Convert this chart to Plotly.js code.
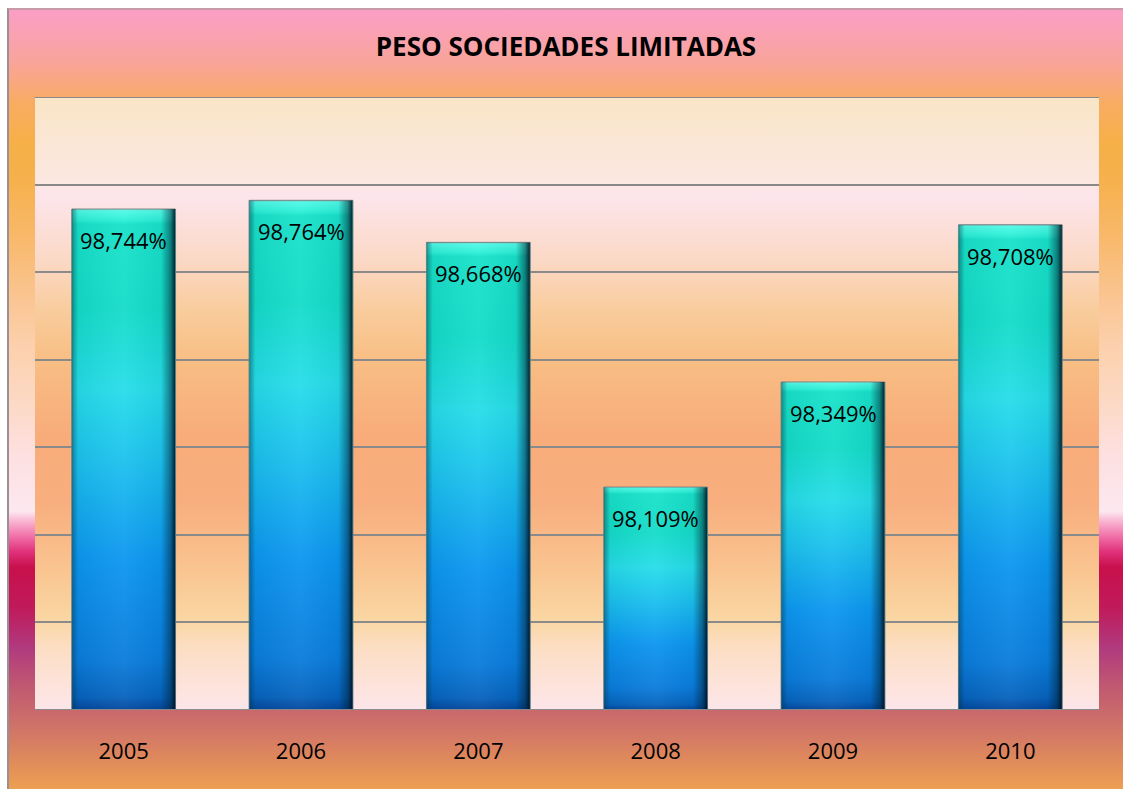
<!DOCTYPE html>
<html>
<head>
<meta charset="utf-8">
<script src="https://cdn.plot.ly/plotly-3.0.1.min.js"></script>
<style>
  html, body { margin:0; padding:0; width:1123px; height:789px; overflow:hidden; background:#ffffff; }
  #bg {
    position:absolute; left:7px; top:8px; width:1130px; height:790px;
    box-sizing:border-box;
    border-left:2px solid #9a8f94; border-top:2px solid #c89aa8;
    background: linear-gradient(to bottom,
      #FA9EC6 0%, #F9A49A 6.7%, #F8AC62 11.8%, #F6B048 16.9%, #F6B04C 21.4%,
      #F8B868 28.4%, #FAC490 36.1%, #FCD0AC 42.5%, #FCD8C2 48.9%, #FDE0E0 56.6%,
      #FCE8F0 63.6%, #F9B4D2 64.9%, #F070A8 66.8%, #E0307A 68.8%, #C8104C 70.7%,
      #C01A5A 75.8%, #B03A7E 80.9%, #C05A70 86%, #D07468 91.2%, #E49058 96.3%, #F0A850 100%);
  }
  #chart { position:absolute; left:0; top:0; width:1123px; height:789px; }
</style>
</head>
<body>
<div id="bg"></div>
<div id="chart"></div>
<script>
// ---- data ----
const years = [2005, 2006, 2007, 2008, 2009, 2010];
const values = [98.744, 98.764, 98.668, 98.109, 98.349, 98.708];
const valueLabels = ["98,744%", "98,764%", "98,668%", "98,109%", "98,349%", "98,708%"];
const tickLabels = ["2005", "2006", "2007", "2008", "2009", "2010"];
const chartTitle = "PESO SOCIEDADES LIMITADAS";

// ---- axis settings ----
const yMin = 97.6, yMax = 99.0, yStep = 0.2;
const barWidth = 0.585;

function svgUri(s) { return 'data:image/svg+xml;charset=utf-8,' + encodeURIComponent(s); }

const plotBgSvg = `<svg xmlns='http://www.w3.org/2000/svg' viewBox='0 0 100 100' preserveAspectRatio='none' width='100' height='100'>
<defs><linearGradient id='g' x1='0' y1='0' x2='0' y2='1'>
<stop offset='0' stop-color='#F9E6C6'/>
<stop offset='0.14' stop-color='#FCE7E2'/>
<stop offset='0.16' stop-color='#FDE5EC'/>
<stop offset='0.27' stop-color='#FBD8C4'/>
<stop offset='0.35' stop-color='#F9CC9C'/>
<stop offset='0.43' stop-color='#F8BE84'/>
<stop offset='0.55' stop-color='#F8AC7A'/>
<stop offset='0.66' stop-color='#F8AE7E'/>
<stop offset='0.76' stop-color='#F9C28E'/>
<stop offset='0.85' stop-color='#FAD6A2'/>
<stop offset='0.90' stop-color='#FCDEC4'/>
<stop offset='1' stop-color='#FDE6EA'/>
</linearGradient></defs>
<rect width='100' height='100' fill='url(#g)'/></svg>`;

const barSvg = `<svg xmlns='http://www.w3.org/2000/svg' viewBox='0 0 100 100' preserveAspectRatio='none' width='100' height='100'>
<defs>
<linearGradient id='v' x1='0' y1='0' x2='0' y2='1'>
<stop offset='0' stop-color='#8a9a98'/>
<stop offset='0.003' stop-color='#50FAE6'/>
<stop offset='0.022' stop-color='#2CF0D8'/>
<stop offset='0.03' stop-color='#18E2CA'/>
<stop offset='0.2' stop-color='#14DCC8'/>
<stop offset='0.36' stop-color='#26DDE9'/>
<stop offset='0.5' stop-color='#1CC2EE'/>
<stop offset='0.7' stop-color='#0C96F0'/>
<stop offset='0.9' stop-color='#0A7CDC'/>
<stop offset='0.975' stop-color='#0662BC'/>
<stop offset='1' stop-color='#04449A'/>
</linearGradient>
<linearGradient id='h' x1='0' y1='0' x2='1' y2='0'>
<stop offset='0' stop-color='#506868' stop-opacity='0.9'/>
<stop offset='0.012' stop-color='#003040' stop-opacity='0.4'/>
<stop offset='0.06' stop-color='#003040' stop-opacity='0.06'/>
<stop offset='0.5' stop-color='#ffffff' stop-opacity='0.05'/>
<stop offset='0.86' stop-color='#002030' stop-opacity='0.05'/>
<stop offset='0.95' stop-color='#002030' stop-opacity='0.5'/>
<stop offset='0.99' stop-color='#001020' stop-opacity='0.85'/>
<stop offset='1' stop-color='#405858' stop-opacity='0.95'/>
</linearGradient>
</defs>
<rect width='100' height='100' fill='url(#v)'/>
<rect width='100' height='100' fill='url(#h)'/>
</svg>`;

const barTrace = {
  type: 'bar',
  x: years,
  y: values,
  width: barWidth,
  marker: { color: '#1CC2EC', line: { color: '#6a7878', width: 1 } },
  hoverinfo: 'skip'
};

const images = [{
  source: svgUri(plotBgSvg), xref: 'paper', yref: 'paper', x: 0, y: 1,
  sizex: 1, sizey: 1, sizing: 'stretch', xanchor: 'left', yanchor: 'top', layer: 'below'
}].concat(years.map((yr, i) => ({
  source: svgUri(barSvg), xref: 'x', yref: 'y',
  x: yr - barWidth / 2, y: values[i], sizex: barWidth, sizey: values[i] - yMin,
  sizing: 'stretch', xanchor: 'left', yanchor: 'top', layer: 'above'
})));

const annotations = years.map((yr, i) => ({
  x: yr, y: values[i], xref: 'x', yref: 'y', text: valueLabels[i],
  showarrow: false, yanchor: 'middle', xanchor: 'center', yshift: -31,
  font: { family: 'Open Sans, sans-serif', size: 22, color: '#000000' }
}));

const shapes = [
  { type: 'line', xref: 'paper', yref: 'y', x0: 0, x1: 1, y0: yMax, y1: yMax,
    line: { color: '#8a8a8a', width: 2 }, layer: 'below' },
  { type: 'line', xref: 'paper', yref: 'y', x0: 0, x1: 1, y0: yMin, y1: yMin,
    line: { color: '#8a8a8a', width: 2 }, layer: 'above' }
];

const layout = {
  width: 1123, height: 789,
  margin: { l: 35, r: 24, t: 97, b: 79, pad: 0 },
  paper_bgcolor: 'rgba(0,0,0,0)',
  plot_bgcolor: 'rgba(0,0,0,0)',
  showlegend: false,
  title: {
    text: chartTitle, xref: 'container', yref: 'container',
    x: 0.504, y: 1 - 47 / 789, xanchor: 'center', yanchor: 'middle',
    font: { family: 'Open Sans, sans-serif', size: 26, color: '#000000', weight: 700 }
  },
  xaxis: {
    range: [years[0] - 0.5, years[years.length - 1] + 0.5],
    tickmode: 'array', tickvals: years, ticktext: tickLabels,
    showgrid: false, zeroline: false,
    showline: false,
    ticks: '', ticklabelstandoff: 26,
    tickfont: { family: 'Open Sans, sans-serif', size: 22, color: '#000000' },
    fixedrange: true
  },
  yaxis: {
    range: [yMin, yMax], dtick: yStep, tick0: yMin,
    showticklabels: false, ticks: '',
    showgrid: true, gridcolor: '#8a8a8a', gridwidth: 2,
    zeroline: false, showline: false, fixedrange: true
  },
  images: images,
  shapes: shapes,
  annotations: annotations
};

Plotly.newPlot('chart', [barTrace], layout, { staticPlot: true, displayModeBar: false });
</script>
</body>
</html>
